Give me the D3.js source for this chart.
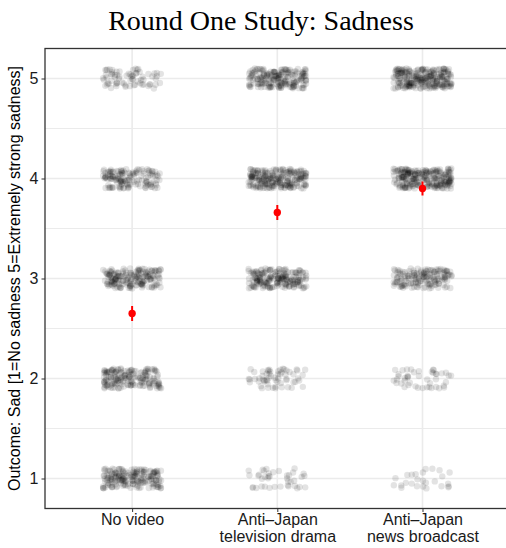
<!DOCTYPE html>
<html>
<head>
<meta charset="utf-8">
<script src="https://cdn.jsdelivr.net/npm/d3@7"></script>
<style>
  html, body { margin: 0; padding: 0; background: #fff; }
  svg { display: block; }
</style>
</head>
<body>
<svg id="chart" width="506" height="548"></svg>
<script>
// Treatment groups (x axis)
const groups = ["No video", "Anti\u2013Japan\ntelevision drama", "Anti\u2013Japan\nnews broadcast"];
// Response levels (y axis ticks)
const levels = [1, 2, 3, 4, 5];
// Number of respondents at each level (1..5), per group
const countsNoVideo = [190, 175, 185, 145, 72];
const countsDrama   = [40, 60, 200, 230, 200];
const countsNews    = [26, 45, 160, 250, 255];
// Group means and standard errors
const groupMeans = [2.65, 3.66, 3.90];
const groupSE    = [0.075, 0.075, 0.07];

const counts = [countsNoVideo, countsDrama, countsNews];

const svg = d3.select("#chart");
const panel = { left: 45, right: 509.6, top: 48.5, bottom: 508.5 };

const x = d3.scalePoint().domain(groups).range([panel.left, panel.right]).padding(0.6);
const y = d3.scaleLinear().domain([0.7, 5.3]).range([panel.bottom, panel.top]);

// Minor grid
svg.append("g").selectAll("line")
  .data([1.5, 2.5, 3.5, 4.5])
  .join("line")
  .attr("x1", panel.left).attr("x2", panel.right)
  .attr("y1", d => y(d)).attr("y2", d => y(d))
  .attr("stroke", "#ebebeb").attr("stroke-width", 1);

// Major grid
svg.append("g").selectAll("line")
  .data(levels)
  .join("line")
  .attr("x1", panel.left).attr("x2", panel.right)
  .attr("y1", d => y(d)).attr("y2", d => y(d))
  .attr("stroke", "#ebebeb").attr("stroke-width", 1.6);
svg.append("g").selectAll("line")
  .data(groups)
  .join("line")
  .attr("x1", d => x(d)).attr("x2", d => x(d))
  .attr("y1", panel.top).attr("y2", panel.bottom)
  .attr("stroke", "#ebebeb").attr("stroke-width", 1.6);

// Jittered responses: one dot per respondent, with a seeded jitter so the layout is stable
const rng = d3.randomLcg(0.4271);
const jitterW = 0.2, jitterH = 0.1;
const step = x.step();
const pts = [];
groups.forEach((g, gi) => {
  levels.forEach((lv, li) => {
    for (let k = 0; k < counts[gi][li]; k++) {
      pts.push({
        cx: x(g) + (rng() * 2 - 1) * jitterW * step,
        cy: y(lv + (rng() * 2 - 1) * jitterH)
      });
    }
  });
});
svg.append("g").selectAll("circle")
  .data(pts)
  .join("circle")
  .attr("cx", d => d.cx).attr("cy", d => d.cy)
  .attr("r", 3.2)
  .attr("fill", "#000").attr("fill-opacity", 0.11);

// Means with standard-error bars
const meanG = svg.append("g");
meanG.selectAll("line")
  .data(groups)
  .join("line")
  .attr("x1", d => x(d)).attr("x2", d => x(d))
  .attr("y1", (d, i) => y(groupMeans[i] - groupSE[i]))
  .attr("y2", (d, i) => y(groupMeans[i] + groupSE[i]))
  .attr("stroke", "#ff0000").attr("stroke-width", 2);
meanG.selectAll("circle")
  .data(groups)
  .join("circle")
  .attr("cx", d => x(d))
  .attr("cy", (d, i) => y(groupMeans[i]))
  .attr("r", 3.7)
  .attr("fill", "#ff0000");

// Panel border
svg.append("rect")
  .attr("x", panel.left).attr("y", panel.top)
  .attr("width", panel.right - panel.left).attr("height", panel.bottom - panel.top)
  .attr("fill", "none").attr("stroke", "#333").attr("stroke-width", 1.3);

// Y axis
const yAxis = d3.axisLeft(y).tickValues(levels).tickFormat(d3.format("d")).tickSize(3.5).tickPadding(3);
const gy = svg.append("g").attr("transform", `translate(${panel.left},0)`).call(yAxis);
gy.select(".domain").remove();
gy.selectAll(".tick line").attr("stroke", "#333");
gy.selectAll(".tick text")
  .attr("font-family", "Liberation Sans, Arial, sans-serif")
  .attr("font-size", 16).attr("fill", "#1a1a1a");

// X axis
const xAxis = d3.axisBottom(x).tickSize(3.5).tickPadding(3).tickFormat("");
const gx = svg.append("g").attr("transform", `translate(0,${panel.bottom})`).call(xAxis);
gx.select(".domain").remove();
gx.selectAll(".tick line").attr("stroke", "#333");
gx.selectAll(".tick").each(function(d) {
  const lines = d.split("\n");
  const t = d3.select(this).append("text")
    .attr("text-anchor", "middle")
    .attr("font-family", "Liberation Sans, Arial, sans-serif")
    .attr("font-size", 16).attr("fill", "#1a1a1a");
  lines.forEach((ln, i) => {
    t.append("tspan").attr("x", 0).attr("y", 16.5 + i * 17).text(ln);
  });
});

// Y axis title
svg.append("text")
  .attr("transform", `translate(20,${(panel.top + panel.bottom) / 2}) rotate(-90)`)
  .attr("text-anchor", "middle")
  .attr("font-family", "Liberation Sans, Arial, sans-serif")
  .attr("font-size", 16).attr("fill", "#000")
  .text("Outcome: Sad [1=No sadness 5=Extremely strong sadness]");

// Title
svg.append("text")
  .attr("x", 261).attr("y", 30)
  .attr("text-anchor", "middle")
  .attr("font-family", "Liberation Serif, Times New Roman, serif")
  .attr("font-size", 28).attr("fill", "#000")
  .text("Round One Study: Sadness");
</script>
</body>
</html>
